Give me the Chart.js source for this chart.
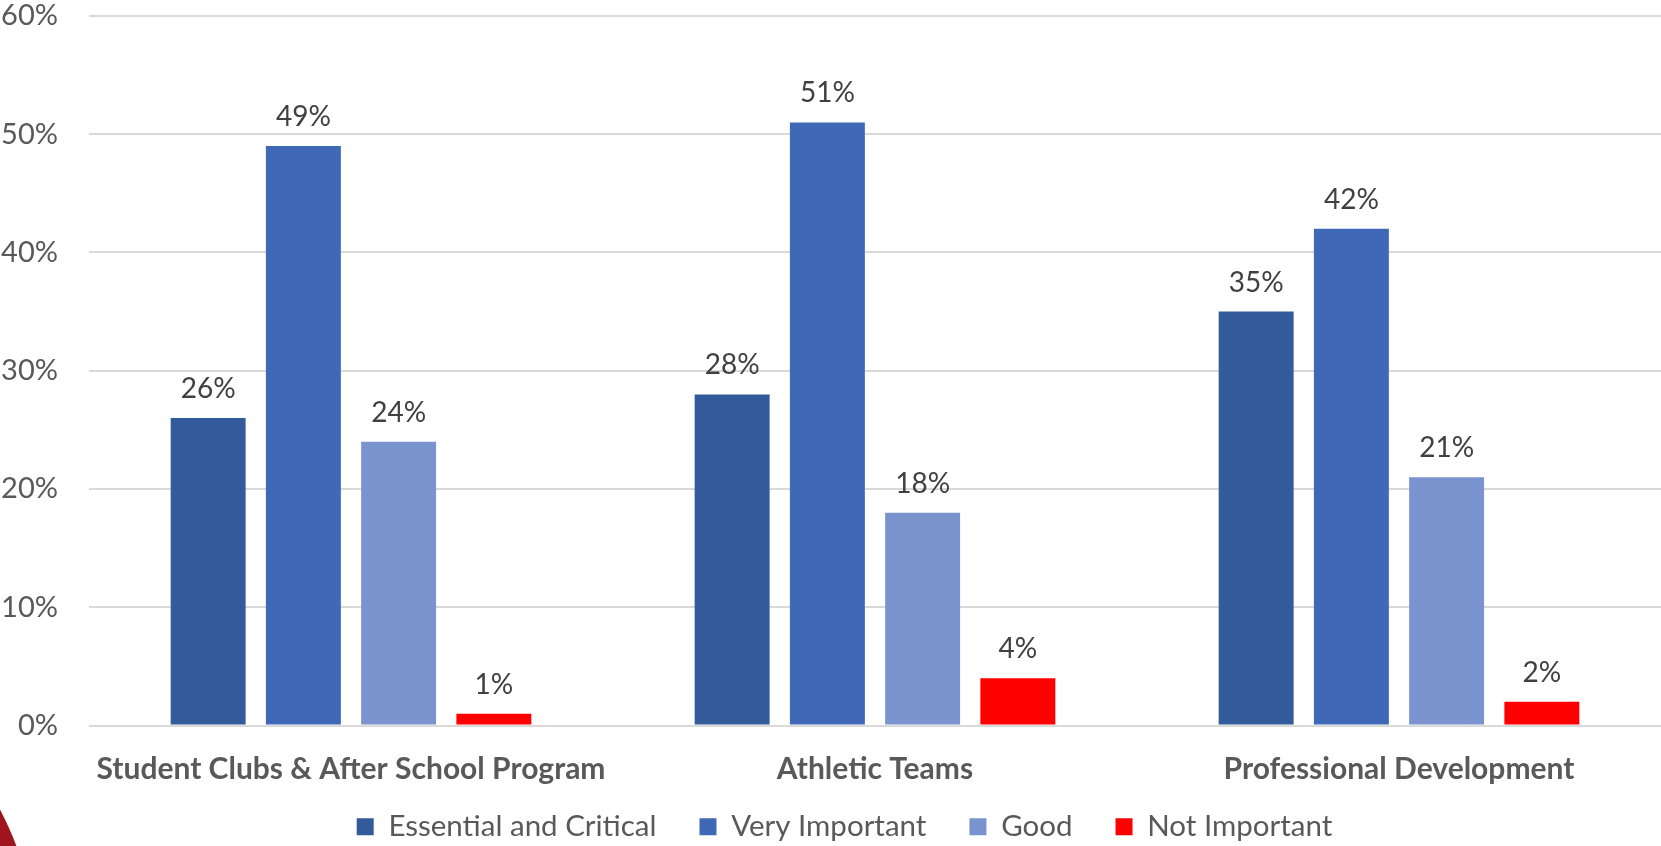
<!DOCTYPE html>
<html>
<head>
<meta charset="utf-8">
<script src="https://cdn.jsdelivr.net/npm/chart.js@4.4.1/dist/chart.umd.min.js"></script>
<style>
    html, body { margin: 0; padding: 0; background: #ffffff; }
    #wrap { width: 1661px; height: 846px; position: relative; }
</style>
</head>
<body>
<div id="wrap"><canvas id="chart"></canvas></div>
<script>
const categories = ['Student Clubs & After School Program', 'Athletic Teams', 'Professional Development'];
const essentialCritical = [26, 28, 35];
const veryImportant = [49, 51, 42];
const good = [24, 18, 21];
const notImportant = [1, 4, 2];
const yTicks = [0, 10, 20, 30, 40, 50, 60];

document.addEventListener('DOMContentLoaded', function() {
    const ctx = document.getElementById('chart').getContext('2d');

    // Percent labels above every bar
    const valueLabels = {
        id: 'valueLabels',
        afterDatasetsDraw(chart) {
            const c = chart.ctx;
            c.save();
            c.font = '28px Lato';
            c.fillStyle = '#404040';
            c.textAlign = 'center';
            c.textBaseline = 'alphabetic';
            chart.data.datasets.forEach((ds, i) => {
                chart.getDatasetMeta(i).data.forEach((bar, j) => {
                    c.fillText(ds.data[j] + '%', bar.x, bar.y - 20);
                });
            });
            c.restore();
        }
    };

    // Bold category names under the axis (drawn here so they are not clipped by the short x box)
    const categoryLabels = {
        id: 'categoryLabels',
        afterDraw(chart) {
            const c = chart.ctx;
            const xs = chart.scales.x;
            c.save();
            c.font = 'bold 30px Lato';
            c.fillStyle = '#595959';
            c.textAlign = 'center';
            c.textBaseline = 'alphabetic';
            chart.data.labels.forEach((lbl, i) => {
                c.fillText(lbl, xs.getPixelForValue(i), chart.chartArea.bottom + 53);
            });
            c.restore();
        }
    };

    // Nudge the legend row a little to the right
    const legendShift = {
        id: 'legendShift',
        afterLayout(chart) {
            chart.legend.left += 14;
            chart.legend.right += 14;
        }
    };

    // Corner badge in the lower left
    const cornerBadge = {
        id: 'cornerBadge',
        afterDraw(chart) {
            const c = chart.ctx;
            c.save();
            c.beginPath();
            c.arc(-265, 950, 300, 0, Math.PI * 2);
            c.fillStyle = '#a0141e';
            c.fill();
            c.restore();
        }
    };

    const data = {
        labels: categories,
        datasets: [
            { label: 'Essential and Critical', data: essentialCritical, backgroundColor: '#335a9a' },
            { label: 'Very Important', data: veryImportant, backgroundColor: '#3f69b7' },
            { label: 'Good', data: good, backgroundColor: '#7a93cf' },
            { label: 'Not Important', data: notImportant, backgroundColor: '#ff0000' }
        ]
    };

    const optionsChart = {
        responsive: true,
        maintainAspectRatio: false,
        animation: false,
        datasets: {
            bar: { categoryPercentage: 0.727, barPercentage: 0.787 }
        },
        layout: { padding: { top: 0, right: 0, bottom: -5.5, left: 0 } },
        plugins: {
            tooltip: { enabled: false },
            legend: {
                position: 'bottom',
                labels: {
                    boxWidth: 17,
                    boxHeight: 17,
                    padding: 43,
                    color: '#595959',
                    font: { family: 'Lato', size: 29.5 }
                }
            }
        },
        scales: {
            x: {
                afterFit(scale) { scale.height = 43.5; },
                grid: { display: false, drawTicks: false },
                border: { display: false },
                ticks: { display: false }
            },
            y: {
                min: yTicks[0],
                max: yTicks[yTicks.length - 1],
                afterFit(scale) { scale.width = 89; },
                afterBuildTicks(scale) { scale.ticks = yTicks.map(v => ({ value: v })); },
                grid: { color: '#d9d9d9', lineWidth: 2, drawTicks: true, tickLength: 31, tickColor: 'rgba(0,0,0,0)' },
                border: { display: false },
                ticks: {
                    padding: 0,
                    color: '#595959',
                    font: { family: 'Lato', size: 29, lineHeight: 1.1 },
                    callback: v => v + '%'
                }
            }
        }
    };

    new Chart(ctx, {
        type: 'bar',
        data: data,
        options: optionsChart,
        plugins: [valueLabels, categoryLabels, legendShift, cornerBadge]
    });
});
</script>
</body>
</html>
